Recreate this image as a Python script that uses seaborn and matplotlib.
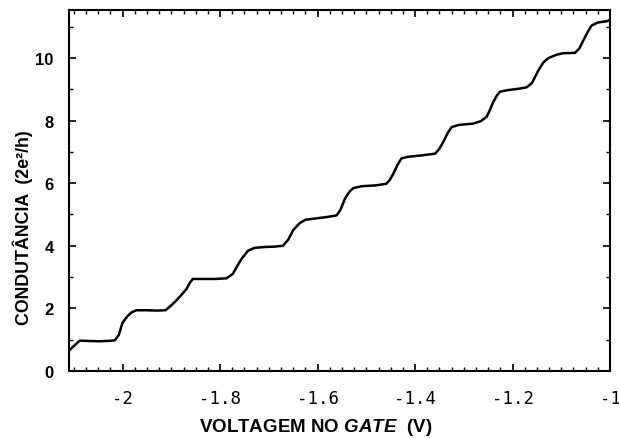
import matplotlib
matplotlib.use("Agg")
import matplotlib.pyplot as plt
from matplotlib.ticker import FixedLocator, MultipleLocator, FixedFormatter
import seaborn as sns
import pandas as pd

# Gate voltage (V) and measured conductance (units of 2e^2/h)
gate_voltage = [
    -2.110, -2.100, -2.088, -2.070, -2.050, -2.030, -2.016, -2.008, -2.000, -1.990,
    -1.982, -1.972, -1.950, -1.930, -1.912, -1.900, -1.890, -1.880, -1.869, -1.862,
    -1.856, -1.830, -1.810, -1.787, -1.774, -1.765, -1.756, -1.743, -1.730, -1.710,
    -1.690, -1.671, -1.660, -1.650, -1.637, -1.625, -1.600, -1.580, -1.561, -1.553,
    -1.544, -1.535, -1.527, -1.510, -1.480, -1.459, -1.452, -1.445, -1.436, -1.428,
    -1.415, -1.390, -1.359, -1.350, -1.342, -1.333, -1.325, -1.310, -1.281, -1.265,
    -1.253, -1.246, -1.240, -1.232, -1.226, -1.210, -1.185, -1.171, -1.160, -1.147,
    -1.137, -1.127, -1.110, -1.096, -1.072, -1.063, -1.055, -1.046, -1.038, -1.025,
    -1.007, -1.000,
]
conductance = [
    0.65, 0.80, 0.97, 0.96, 0.95, 0.96, 0.98, 1.15, 1.55, 1.75,
    1.87, 1.94, 1.94, 1.93, 1.94, 2.10, 2.25, 2.42, 2.62, 2.82,
    2.94, 2.94, 2.94, 2.96, 3.10, 3.35, 3.58, 3.84, 3.93, 3.96,
    3.97, 4.00, 4.20, 4.50, 4.72, 4.83, 4.88, 4.92, 4.97, 5.15,
    5.50, 5.72, 5.84, 5.90, 5.93, 5.98, 6.10, 6.29, 6.58, 6.79,
    6.84, 6.88, 6.94, 7.10, 7.32, 7.60, 7.79, 7.86, 7.90, 7.98,
    8.12, 8.35, 8.58, 8.80, 8.92, 8.97, 9.02, 9.06, 9.20, 9.60,
    9.85, 9.99, 10.10, 10.15, 10.16, 10.30, 10.55, 10.82, 11.03, 11.13,
    11.17, 11.21,
]

x_ticks = [-2.0, -1.8, -1.6, -1.4, -1.2, -1.0]
x_tick_labels = ["-2", "-1.8", "-1.6", "-1.4", "-1.2", "-1"]
y_ticks = [0, 2, 4, 6, 8, 10]
y_tick_labels = ["0", "2", "4", "6", "8", "10"]

sns.set_theme(style="ticks")
plt.rcParams["font.family"] = ["Liberation Sans", "DejaVu Sans"]
plt.rcParams["mathtext.fontset"] = "custom"
plt.rcParams["mathtext.it"] = "Liberation Sans:italic:bold"
plt.rcParams["mathtext.rm"] = "Liberation Sans:bold"

df = pd.DataFrame({"V": gate_voltage, "G": conductance})

fig = plt.figure(figsize=(6.19, 4.39), dpi=100)
ax = fig.add_axes([0.1115, 0.1526, 0.874, 0.8224])

sns.lineplot(data=df, x="V", y="G", ax=ax, color="black", linewidth=1.8)

ax.set_xlim(-2.11, -1.0)
ax.set_ylim(0, 11.53)

ax.xaxis.set_major_locator(FixedLocator(x_ticks))
ax.xaxis.set_major_formatter(FixedFormatter(x_tick_labels))
ax.xaxis.set_minor_locator(MultipleLocator(0.025))
ax.yaxis.set_major_locator(FixedLocator(y_ticks))
ax.yaxis.set_major_formatter(FixedFormatter(y_tick_labels))
ax.yaxis.set_minor_locator(MultipleLocator(1))

ax.tick_params(which="both", direction="in", top=True, right=True, color="black")
ax.tick_params(which="major", length=5, width=1.2)
ax.tick_params(which="minor", length=3, width=1.0)
ax.tick_params(axis="x", which="major", pad=13)
ax.tick_params(axis="y", which="major", pad=11)

for lab in ax.get_xticklabels():
    lab.set_fontfamily("DejaVu Sans Mono")
    lab.set_fontsize(12.5)
    lab.set_color("black")
for lab in ax.get_yticklabels():
    lab.set_fontsize(12)
    lab.set_fontweight("bold")
    lab.set_color("black")

for sp in ax.spines.values():
    sp.set_linewidth(1.5)
    sp.set_color("black")

ax.set_xlabel(r"VOLTAGEM NO $\mathit{GATE}$  (V)", fontsize=13.5, fontweight="bold", color="black")
ax.xaxis.set_label_coords(0.455, -0.126)
ax.set_ylabel("CONDUTÂNCIA  (2e²/h)", fontsize=12.8, fontweight="bold", color="black")
ax.yaxis.set_label_coords(-0.067, 0.40)

fig.savefig("out.png", dpi=100, facecolor="white")
